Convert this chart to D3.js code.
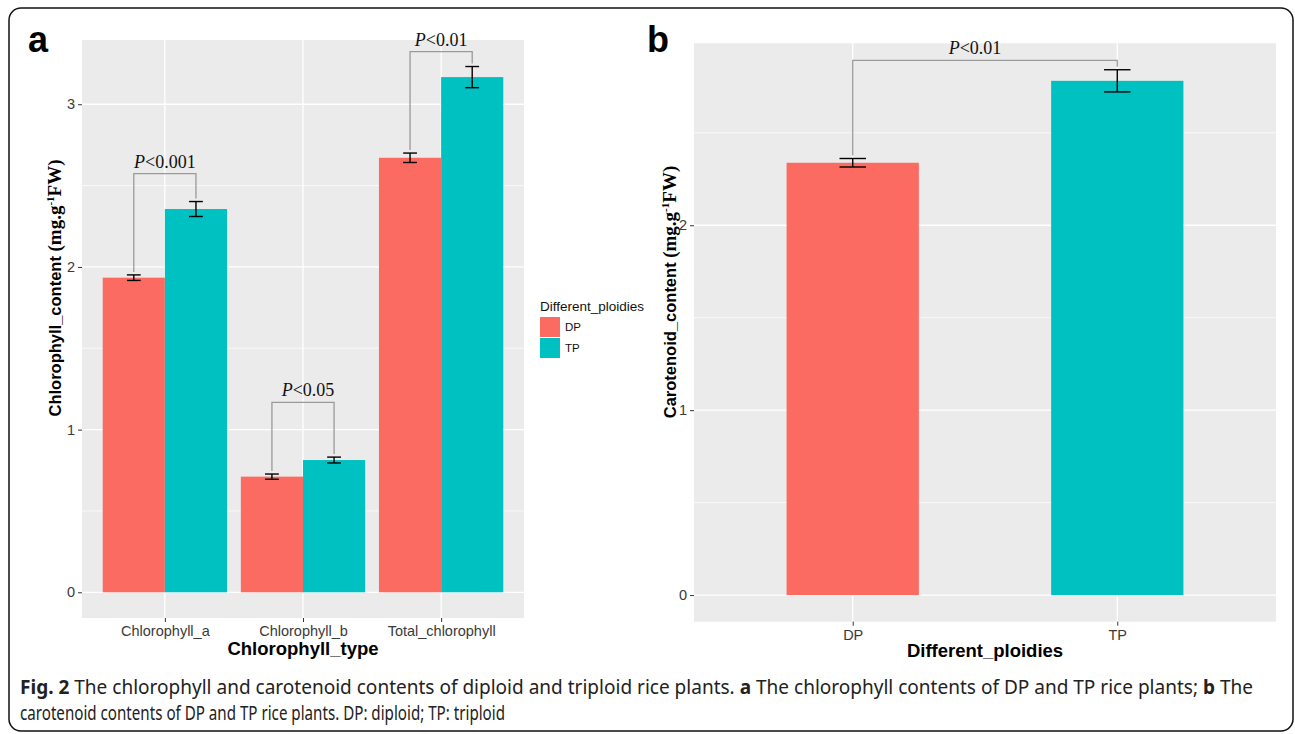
<!DOCTYPE html>
<html>
<head>
<meta charset="utf-8">
<script src="https://cdn.jsdelivr.net/npm/d3@7"></script>
<style>
  body { margin: 0; background: #fff; }
  svg { display: block; }
  .axis text { font-family: "Liberation Sans", Arial, sans-serif; font-size: 14.5px; fill: #3a3a3a; }
  .axis line { stroke: #333; }
  .axis path { display: none; }
</style>
</head>
<body>
<svg id="fig" width="1295" height="734"></svg>
<script>
// panel a: chlorophyll
const chlTypes = ["Chlorophyll_a", "Chlorophyll_b", "Total_chlorophyll"]
const ploidies = ["DP", "TP"]
const dpChl = [1.934, 0.711, 2.671]
const dpChlErr = [0.017, 0.016, 0.029]
const tpChl = [2.356, 0.813, 3.167]
const tpChlErr = [0.046, 0.018, 0.065]
const chlPLabels = ["<0.001", "<0.05", "<0.01"]
const chlPHeight = [2.573, 1.168, 3.323]
const chlTicks = [0, 1, 2, 3]
const chlMinor = [0.5, 1.5, 2.5]

// panel b: carotenoid
const carot = [2.338, 2.781]
const carotErr = [0.023, 0.060]
const carotPLabel = "<0.01"
const carotPHeight = 2.892
const carotTicks = [0, 1, 2]
const carotMinor = [0.5, 1.5, 2.5]

const colors = {DP: "#FC6B61", TP: "#00C1C1"}

const svg = d3.select("#fig")

svg.append("rect")
    .attr("width", 1295).attr("height", 734).attr("fill", "#fff")

svg.append("rect")
    .attr("x", 9).attr("y", 8)
    .attr("width", 1284).attr("height", 723)
    .attr("rx", 12)
    .attr("fill", "none")
    .attr("stroke", "#111")
    .attr("stroke-width", 1.5)

function panelBase(x, y, nCats, tickVals, minors, labels) {
    const g = svg.append("g")
    const [x0, x1] = x.range()
    const [y0, y1] = y.range()

    g.append("rect")
        .attr("x", x0).attr("y", y1)
        .attr("width", x1 - x0).attr("height", y0 - y1)
        .attr("fill", "#EBEBEB")

    g.selectAll("line.minor").data(minors).enter().append("line")
        .attr("x1", x0).attr("x2", x1)
        .attr("y1", (d) => y(d)).attr("y2", (d) => y(d))
        .attr("stroke", "#fff").attr("stroke-width", 0.7)

    g.selectAll("line.hmajor").data(tickVals).enter().append("line")
        .attr("x1", x0).attr("x2", x1)
        .attr("y1", (d) => y(d)).attr("y2", (d) => y(d))
        .attr("stroke", "#fff").attr("stroke-width", 1.3)

    g.selectAll("line.vmajor").data(d3.range(1, nCats + 1)).enter().append("line")
        .attr("y1", y0).attr("y2", y1)
        .attr("x1", (d) => x(d)).attr("x2", (d) => x(d))
        .attr("stroke", "#fff").attr("stroke-width", 1.3)

    g.append("g")
        .attr("class", "axis")
        .attr("transform", "translate(" + x0 + ",0)")
        .call(d3.axisLeft(y).tickValues(tickVals).tickSize(4).tickPadding(3).tickFormat(d3.format("d")))

    g.append("g")
        .attr("class", "axis")
        .attr("transform", "translate(0," + y0 + ")")
        .call(d3.axisBottom(x).tickValues(d3.range(1, nCats + 1)).tickSize(4).tickPadding(4)
            .tickFormat((d) => labels[d - 1]))

    return g
}

function errorBar(g, x, y, cx, v, e) {
    g.append("line")
        .attr("x1", x(cx)).attr("x2", x(cx))
        .attr("y1", y(v - e)).attr("y2", y(v + e))
        .attr("stroke", "#000").attr("stroke-width", 1.4)
    ;[v - e, v + e].forEach((yy) => {
        g.append("line")
            .attr("x1", x(cx - 0.05)).attr("x2", x(cx + 0.05))
            .attr("y1", y(yy)).attr("y2", y(yy))
            .attr("stroke", "#000").attr("stroke-width", 1.4)
    })
}

function bracket(g, x, y, xa, xb, topA, topB, h, label, shift) {
    g.append("path")
        .attr("d", "M" + x(xa) + "," + (y(topA) - 3) + "V" + y(h) + "H" + x(xb) + "V" + (y(topB) - 3))
        .attr("fill", "none")
        .attr("stroke", "#9a9a9a")
        .attr("stroke-width", 1.3)
    const t = g.append("text")
        .attr("x", (x(xa) + x(xb)) / 2 + (shift || 0))
        .attr("y", y(h) - 6)
        .attr("text-anchor", "middle")
        .attr("font-family", "'Liberation Serif', 'Times New Roman', serif")
        .attr("font-size", "18px")
        .attr("fill", "#111")
    t.append("tspan").attr("font-style", "italic").text("P")
    t.append("tspan").text(label)
}

// ---------- panel a ----------
const xA = d3.scaleLinear().domain([0.4, 3.6]).range([82, 524])
const yA = d3.scaleLinear().domain([-0.158, 3.395]).range([618, 40])
const gA = panelBase(xA, yA, 3, chlTicks, chlMinor, chlTypes)

const chlRows = []
chlTypes.forEach((c, i) => {
    chlRows.push({cat: i + 1, grp: "DP", v: dpChl[i], e: dpChlErr[i], off: -0.45})
    chlRows.push({cat: i + 1, grp: "TP", v: tpChl[i], e: tpChlErr[i], off: 0})
})

gA.selectAll("rect.bar").data(chlRows).enter().append("rect")
    .attr("x", (d) => xA(d.cat + d.off))
    .attr("width", (d) => xA(d.cat + d.off + 0.45) - xA(d.cat + d.off))
    .attr("y", (d) => yA(d.v))
    .attr("height", (d) => yA(0) - yA(d.v))
    .attr("fill", (d) => colors[d.grp])

chlRows.forEach((d) => errorBar(gA, xA, yA, d.cat + d.off + 0.225, d.v, d.e))

chlTypes.forEach((c, i) => {
    bracket(gA, xA, yA, i + 1 - 0.225, i + 1 + 0.225,
        dpChl[i] + dpChlErr[i], tpChl[i] + tpChlErr[i], chlPHeight[i], chlPLabels[i], i == 1 ? 5 : 0)
})

// axis titles a
svg.append("text")
    .attr("x", 303).attr("y", 655)
    .attr("text-anchor", "middle")
    .attr("font-family", "'Liberation Sans', Arial, sans-serif")
    .attr("font-weight", "bold").attr("font-size", "18.5px")
    .text("Chlorophyll_type")

function yTitle(x, y, main) {
    const t = svg.append("text")
        .attr("transform", "translate(" + x + "," + y + ") rotate(-90)")
        .attr("text-anchor", "middle")
        .attr("font-weight", "bold")
        .attr("fill", "#000")
    t.append("tspan")
        .attr("font-family", "'Liberation Sans', Arial, sans-serif")
        .attr("font-size", "16.5px")
        .text(main + " ")
    t.append("tspan")
        .attr("font-family", "'Liberation Serif', 'Times New Roman', serif")
        .attr("font-size", "19px")
        .text("(mg.g")
    t.append("tspan")
        .attr("font-family", "'Liberation Serif', 'Times New Roman', serif")
        .attr("dy", -7).attr("font-size", "11px").text("-1")
    t.append("tspan")
        .attr("font-family", "'Liberation Serif', 'Times New Roman', serif")
        .attr("font-size", "19px")
        .attr("dy", 7).text("FW)")
}
yTitle(61, 288, "Chlorophyll_content")

// legend
const leg = svg.append("g").attr("transform", "translate(540,0)")
leg.append("text")
    .attr("x", 0).attr("y", 311)
    .attr("font-family", "'Liberation Sans', Arial, sans-serif")
    .attr("font-size", "13.5px")
    .attr("fill", "#111")
    .text("Different_ploidies")
leg.selectAll("rect.key").data(ploidies).enter().append("rect")
    .attr("x", 0).attr("y", (d, i) => 317 + i * 21)
    .attr("width", 20).attr("height", 20)
    .attr("fill", (d) => colors[d])
leg.selectAll("text.key").data(ploidies).enter().append("text")
    .attr("x", 25).attr("y", (d, i) => 331 + i * 21)
    .attr("font-family", "'Liberation Sans', Arial, sans-serif")
    .attr("font-size", "11.5px")
    .attr("fill", "#111")
    .text((d) => d)

// ---------- panel b ----------
const xB = d3.scaleLinear().domain([0.4, 2.6]).range([694, 1276])
const yB = d3.scaleLinear().domain([-0.144, 2.984]).range([621.7, 43.3])
const gB = panelBase(xB, yB, 2, carotTicks, carotMinor, ploidies)

gB.selectAll("rect.bar").data(ploidies).enter().append("rect")
    .attr("x", (d, i) => xB(i + 1 - 0.25))
    .attr("width", (d, i) => xB(i + 1.25) - xB(i + 0.75))
    .attr("y", (d, i) => yB(carot[i]))
    .attr("height", (d, i) => yB(0) - yB(carot[i]))
    .attr("fill", (d) => colors[d])

ploidies.forEach((p, i) => errorBar(gB, xB, yB, i + 1, carot[i], carotErr[i]))

bracket(gB, xB, yB, 1, 2, carot[0] + carotErr[0], carot[1] + carotErr[1], carotPHeight, carotPLabel, -10)

svg.append("text")
    .attr("x", 985).attr("y", 657)
    .attr("text-anchor", "middle")
    .attr("font-family", "'Liberation Sans', Arial, sans-serif")
    .attr("font-weight", "bold").attr("font-size", "18.5px")
    .text("Different_ploidies")

yTitle(676, 292, "Carotenoid_content")

// panel letters
svg.append("text").attr("x", 28).attr("y", 52)
    .attr("font-family", "'Liberation Sans', Arial, sans-serif")
    .attr("font-weight", "bold").attr("font-size", "36px").text("a")
svg.append("text").attr("x", 647).attr("y", 52)
    .attr("font-family", "'Liberation Sans', Arial, sans-serif")
    .attr("font-weight", "bold").attr("font-size", "36px").text("b")

// caption
const cap1 = svg.append("text")
    .attr("x", 20).attr("y", 694)
    .attr("font-family", "'Noto Sans', sans-serif")
    .attr("font-size", "19px")
    .attr("fill", "#222")
    .attr("textLength", 1233)
    .attr("lengthAdjust", "spacingAndGlyphs")
cap1.append("tspan").attr("font-weight", "bold").text("Fig. 2")
cap1.append("tspan").text(" The chlorophyll and carotenoid contents of diploid and triploid rice plants. ")
cap1.append("tspan").attr("font-weight", "bold").text("a")
cap1.append("tspan").text(" The chlorophyll contents of DP and TP rice plants; ")
cap1.append("tspan").attr("font-weight", "bold").text("b")
cap1.append("tspan").text(" The")

svg.append("text")
    .attr("x", 20).attr("y", 720)
    .attr("font-family", "'Noto Sans', sans-serif")
    .attr("font-size", "19px")
    .attr("fill", "#222")
    .attr("textLength", 485)
    .attr("lengthAdjust", "spacingAndGlyphs")
    .text("carotenoid contents of DP and TP rice plants. DP: diploid; TP: triploid")
</script>
</body>
</html>
